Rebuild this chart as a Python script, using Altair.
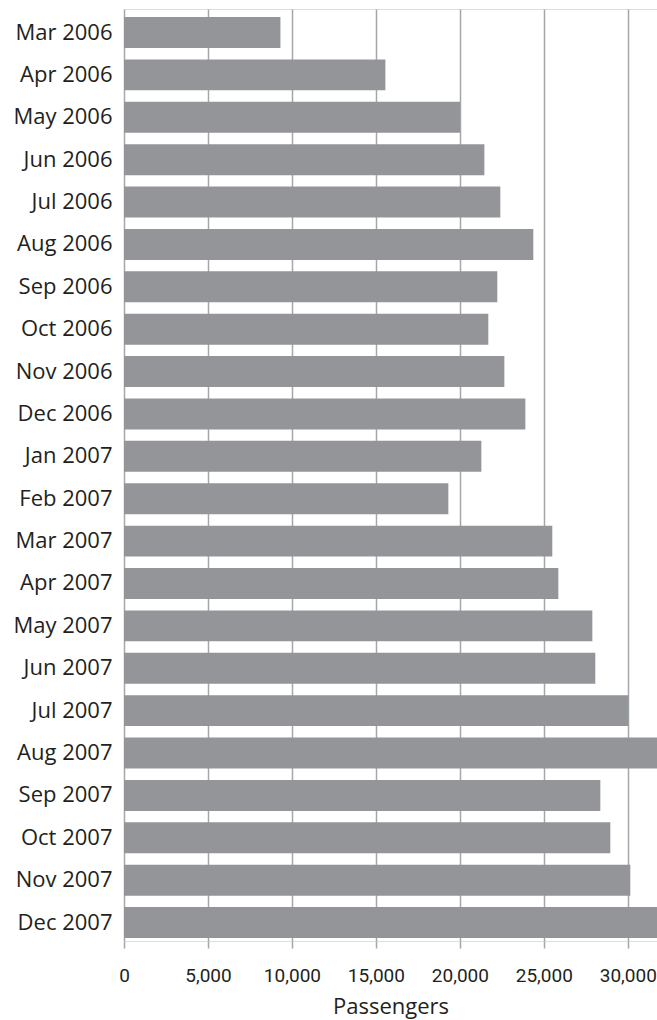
import altair as alt
import pandas as pd

# Monthly passenger counts, March 2006 to December 2007
months = [
    "Mar 2006", "Apr 2006", "May 2006", "Jun 2006", "Jul 2006", "Aug 2006",
    "Sep 2006", "Oct 2006", "Nov 2006", "Dec 2006", "Jan 2007", "Feb 2007",
    "Mar 2007", "Apr 2007", "May 2007", "Jun 2007", "Jul 2007", "Aug 2007",
    "Sep 2007", "Oct 2007", "Nov 2007", "Dec 2007",
]
passengers = [
    9315, 15565, 20010, 21460, 22410, 24375,
    22230, 21695, 22650, 23900, 21280, 19315,
    25505, 25865, 27890, 28065, 30030, 31950,
    28365, 28960, 30150, 31850,
]
x_ticks = [0, 5000, 10000, 15000, 20000, 25000, 30000]

df = pd.DataFrame({"month": months, "passengers": passengers})

bar_color = "#939598"
grid_color = "#a4a6a9"
text_color = "#231f20"

chart = (
    alt.Chart(df)
    .mark_bar(color=bar_color, clip=True)
    .encode(
        x=alt.X(
            "passengers:Q",
            title="Passengers",
            scale=alt.Scale(domain=[0, 31740], nice=False, zero=True),
            axis=alt.Axis(
                values=x_ticks,
                format=",d",
                domain=False,
                grid=True,
                gridColor=grid_color,
                gridWidth=1.5,
                ticks=True,
                tickColor=grid_color,
                tickWidth=1.5,
                tickSize=7,
                labelFont="Roboto",
                labelFontSize=19,
                labelColor=text_color,
                labelPadding=18,
                labelFlush=False,
                titleFont="Open Sans",
                titleFontSize=22,
                titleFontWeight="normal",
                titleColor=text_color,
                titlePadding=11,
            ),
        ),
        y=alt.Y(
            "month:N",
            sort=months,
            title=None,
            scale=alt.Scale(paddingInner=0.27, paddingOuter=0.13, align=0.73),
            axis=alt.Axis(
                domain=False,
                ticks=False,
                grid=False,
                labelFont="Open Sans",
                labelFontSize=22,
                labelColor=text_color,
                labelPadding=12,
            ),
        ),
    )
    .properties(
        width=533,
        height=932,
        autosize="none",
        padding={"left": 124, "top": 9, "right": 0, "bottom": 79},
    )
    .configure_view(strokeWidth=0)
    .configure(background="white")
)

chart.save("out.html", embed_options={"renderer": "svg", "actions": False})
